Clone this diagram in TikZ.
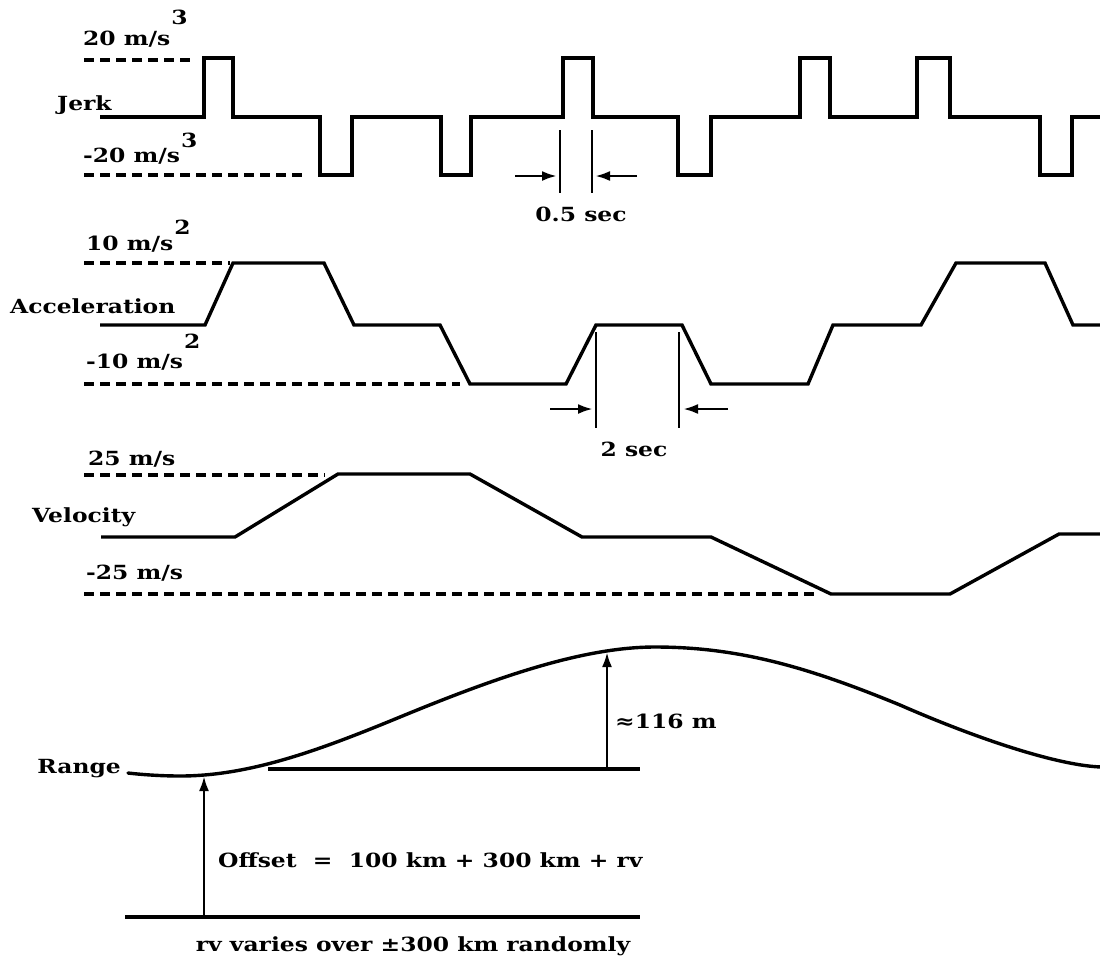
\documentclass[tikz,border=0pt]{standalone}
\usepackage{fontspec}
\setmainfont{DejaVu Serif}[FakeStretch=1.2]
\usetikzlibrary{arrows.meta}
\newcommand{\rsup}[2]{\kern1pt\raisebox{#1pt}{#2}}
\begin{document}
\begin{tikzpicture}[x=1pt,y=-1pt,
  sig/.style={line width=3.4pt, line join=miter, line cap=butt},
  refdash/.style={line width=3.3pt, dash pattern=on 10pt off 6pt},
  dimline/.style={line width=2.3pt},
  dimarrow/.style={line width=2.8pt, -{Latex[length=15pt,width=10pt]}},
  lbl/.style={inner sep=0pt, font=\bfseries\fontsize{19.5}{21}\selectfont}]
\useasboundingbox (0,0) rectangle (1100,962);

% ---------------- Jerk ----------------
\node[lbl, anchor=base west] (jhi) at (83,45) {20 m/s\rsup{21}{3}};
\node[lbl, anchor=base west] (jname) at (57,110) {Jerk};
\node[lbl, anchor=base west] (jlo) at (83,162) {-20 m/s\rsup{15}{3}};
\draw[refdash] (84,60) -- (190,60);
\draw[refdash] (84,175) -- (302,175);
\draw[sig] (100,117) -- (204,117) -- (204,58) -- (233,58) -- (233,117)
  -- (320,117) -- (320,175) -- (352,175) -- (352,117)
  -- (441,117) -- (441,175) -- (471,175) -- (471,117)
  -- (563,117) -- (563,58) -- (593,58) -- (593,117)
  -- (678,117) -- (678,175) -- (711,175) -- (711,117)
  -- (800,117) -- (800,58) -- (830,58) -- (830,117)
  -- (917,117) -- (917,58) -- (950,58) -- (950,117)
  -- (1040,117) -- (1040,175) -- (1072,175) -- (1072,117) -- (1102,117);
% 0.5 sec dimension
\coordinate (ja1) at (560,130); \coordinate (jb1) at (560,193);
\coordinate (ja2) at (592,130); \coordinate (jb2) at (592,193);
\draw[dimline] (ja1) -- (jb1);
\draw[dimline] (ja2) -- (jb2);
\coordinate (jl0) at (515,176); \coordinate (jl1) at (557,176);
\coordinate (jr0) at (637,176); \coordinate (jr1) at (595,176);
\draw[dimarrow] (jl0) -- (jl1);
\draw[dimarrow] (jr0) -- (jr1);
\node[lbl] (jdim) at (581,214) {0.5 sec};

% ---------------- Acceleration ----------------
\node[lbl, anchor=base west] (ahi) at (86,250) {10 m/s\rsup{16}{2}};
\node[lbl, anchor=base west] (aname) at (10,313) {Acceleration};
\node[lbl, anchor=base west] (alo) at (86,368) {-10 m/s\rsup{20}{2}};
\draw[refdash] (84,263) -- (230,263);
\draw[refdash] (84,384) -- (460,384);
\draw[sig] (100,325) -- (205,325) -- (233,263) -- (324,263) -- (354,325)
  -- (440,325) -- (470,384) -- (566,384) -- (596,325) -- (682,325)
  -- (711,384) -- (808,384) -- (833,325) -- (921,325) -- (956,263)
  -- (1045,263) -- (1073,325) -- (1102,325);
% 2 sec dimension
\coordinate (aa1) at (596,332); \coordinate (ab1) at (596,428);
\coordinate (aa2) at (679,332); \coordinate (ab2) at (679,428);
\draw[dimline] (aa1) -- (ab1);
\draw[dimline] (aa2) -- (ab2);
\coordinate (al0) at (550,409); \coordinate (al1) at (593,409);
\coordinate (ar0) at (728,409); \coordinate (ar1) at (683,409);
\draw[dimarrow] (al0) -- (al1);
\draw[dimarrow] (ar0) -- (ar1);
\node[lbl] (adim) at (634,449) {2 sec};

% ---------------- Velocity ----------------
\node[lbl, anchor=base west] (vhi) at (88,465) {25 m/s};
\node[lbl, anchor=base west] (vname) at (32,522) {Velocity};
\node[lbl, anchor=base west] (vlo) at (86,579) {-25 m/s};
\draw[refdash] (84,475) -- (325,475);
\draw[refdash] (84,594) -- (817,594);
\draw[sig] (101,537) -- (235,537) -- (338,474) -- (470,474) -- (582,537)
  -- (711,537) -- (831,594) -- (950,594) -- (1059,534) -- (1102,534);

% ---------------- Range ----------------
\node[lbl, anchor=base east] (rname) at (121,773) {Range};
\draw[sig, line cap=round] (128,773) .. controls (145,775) and (165,776) .. (180,776)
  .. controls (250,776) and (320,750) .. (400,717)
  .. controls (490,680) and (580,647) .. (655,647)
  .. controls (740,647) and (810,668) .. (900,705)
  .. controls (980,740) and (1060,766) .. (1102,767);
\coordinate (b0) at (268,769); \coordinate (b1) at (640,769);
\draw[sig] (b0) -- (b1);
\coordinate (h0) at (607,769); \coordinate (h1) at (607,652);
\draw[dimarrow] (h0) -- (h1);
\node[lbl, anchor=west] (hlbl) at (615,721) {≈116 m};
\coordinate (g0) at (125,917); \coordinate (g1) at (640,917);
\draw[sig] (g0) -- (g1);
\coordinate (o0) at (204,917); \coordinate (o1) at (204,776);
\draw[dimarrow] (o0) -- (o1);
\node[lbl, anchor=west] (olbl) at (218,860) {Offset\ \ =\ \ 100 km + 300 km + rv};
\node[lbl] (rvlbl) at (413,946) {rv varies over ±300 km randomly};
\end{tikzpicture}
\end{document}
